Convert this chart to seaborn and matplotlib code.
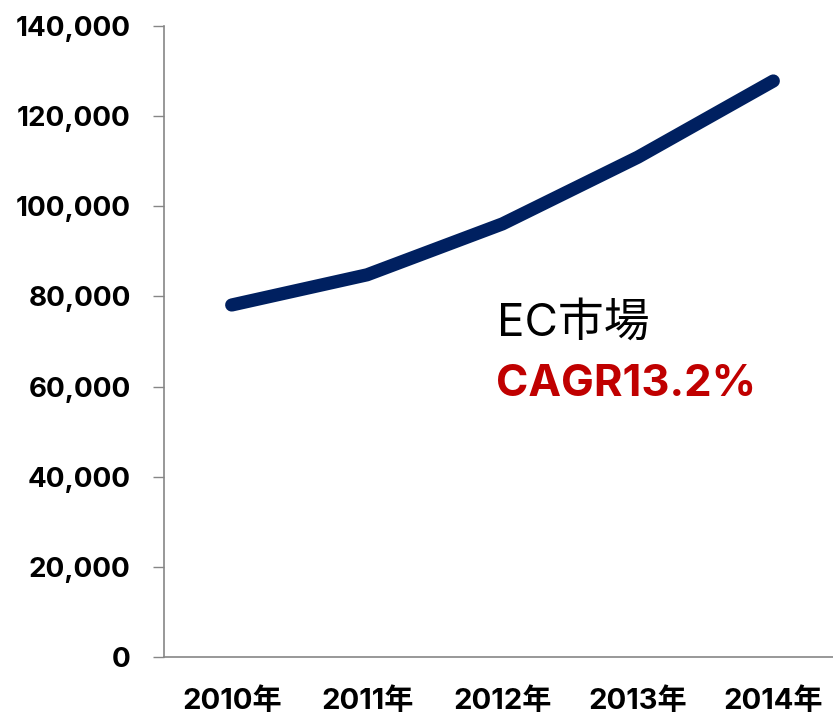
import numpy as np
import pandas as pd
import seaborn as sns
from matplotlib import pyplot as plt
from matplotlib.ticker import FuncFormatter, FixedLocator

years = ["2010年", "2011年", "2012年", "2013年", "2014年"]
market = [78100, 84800, 96100, 110900, 127800]
label_main = "EC市場"
label_cagr = "CAGR13.2%"

df = pd.DataFrame({"year": years, "value": market})

sns.set_style("white")
plt.rcParams["font.family"] = ["Inter", "Noto Sans CJK JP", "DejaVu Sans"]

fig = plt.figure(figsize=(8.33, 7.15), dpi=100)
ax = fig.add_axes([164 / 833, 58 / 715, 677 / 833, 631 / 715])

sns.lineplot(data=df, x="year", y="value", ax=ax, color="#002060",
             linewidth=9.5, solid_capstyle="round", sort=False)

ax.set_xlim(-0.5, 4.5)
ax.set_ylim(0, 140000)
ax.set_yticks(np.arange(0, 140001, 20000))
ax.yaxis.set_major_formatter(FuncFormatter(lambda v, p: "{:,}".format(int(v))))

# category boundaries get the tick marks, labels sit in between
ax.xaxis.set_minor_locator(FixedLocator(np.arange(-0.5, 5.0, 1.0)))
ax.tick_params(axis="x", which="major", length=0, pad=22)
ax.tick_params(axis="x", which="minor", length=8, width=1, color="#868686",
               direction="out")
ax.tick_params(axis="y", which="major", length=8, width=1, color="#868686",
               direction="out", pad=16, left=True)

for lab in ax.get_xticklabels() + ax.get_yticklabels():
    lab.set_fontsize(20)
    lab.set_fontweight("bold")
    lab.set_color("black")
for lab in ax.get_xticklabels():
    lab.set_fontsize(21)

for side in ["top", "right"]:
    ax.spines[side].set_visible(False)
for side in ["left", "bottom"]:
    ax.spines[side].set_color("#868686")
    ax.spines[side].set_linewidth(1.2)

ax.set_xlabel("")
ax.set_ylabel("")

fig.text(497 / 833, (715 - 336) / 715, label_main, fontsize=33,
         color="black", ha="left", va="baseline")
fig.text(496 / 833, (715 - 396) / 715, label_cagr, fontsize=31.5,
         fontweight="bold", color="#C00000", ha="left", va="baseline")

fig.savefig("out.png", dpi=100)
